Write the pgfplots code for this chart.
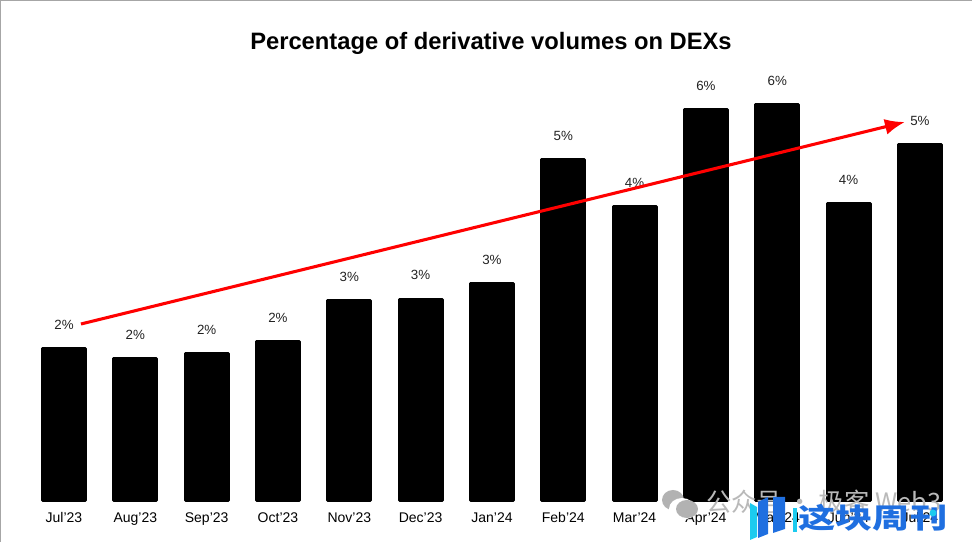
\documentclass[border=0pt]{standalone}
\usepackage{pgfplots}
\pgfplotsset{compat=1.18}
\usetikzlibrary{arrows.meta}
\usepackage{fontspec}
\setmainfont{Liberation Sans}
\newfontfamily\cjk{Noto Sans CJK SC}
\definecolor{lbl}{HTML}{222222}
\definecolor{logob}{HTML}{1F6FE0}
\definecolor{logoc}{HTML}{1CCBEF}
\begin{document}
\begin{tikzpicture}[x=0.75pt,y=0.75pt]
\begin{axis}[
  at={(0,0)},anchor=south west,
  name=ax,
  scale only axis,
  width=729pt,height=375.75pt,
  xmin=-0.897,xmax=12.73,
  ymin=0,ymax=7.368,
  clip=false,
  axis line style={draw=none},
  major tick style={draw=none},
  ytick=\empty,
  xtick={0,1,2,3,4,5,6,7,8,9,10,11,12},
  xticklabels={Jul'23,Aug'23,Sep'23,Oct'23,Nov'23,Dec'23,Jan'24,Feb'24,Mar'24,Apr'24,May'24,Jun'24,Jul'24},
  xticklabel style={font=\fontsize{10.5}{12}\selectfont,text=black,yshift=-0.4pt,text height=8pt,text depth=2pt},
  /pgf/number format/assume math mode=true,
  ybar,bar width=32.25pt,
  nodes near coords={\pgfmathprintnumber[fixed,precision=0]{\pgfplotspointmeta}\%},
  nodes near coords style={font=\fontsize{10}{12}\selectfont,text=lbl,anchor=center,yshift=17.75pt},
]
\addplot[ybar,fill=black,draw=black,line width=2.25pt,line join=round] coordinates {
(0,2.24)(1,2.10)(2,2.17)(3,2.35)(4,2.95)(5,2.97)(6,3.20)(7,5.02)(8,4.33)(9,5.76)(10,5.83)(11,4.38)(12,5.24)};
\end{axis}
\begin{axis}[
  at={(0,0)},anchor=south west,
  scale only axis,
  width=729pt,height=375.75pt,
  xmin=-0.897,xmax=12.73,
  ymin=0,ymax=7.368,
  clip=false,
  hide axis,
]
\addplot[red,line width=2.3pt,-{Latex[length=15pt,width=12pt]}] coordinates {(0.238,2.603)(11.79,5.574)};
\end{axis}
% page frame and title
\draw[gray!70,line width=0.75pt] (0.4,-41) -- (0.4,500.6) -- (972,500.6);
\node[font=\bfseries\fontsize{17.8}{22}\selectfont] at (491,457.5) {Percentage of derivative volumes on DEXs};
% watermark
\fill[gray!60] (673,1) ellipse (11 and 10);
\fill[white] (682,-8) ellipse (13 and 11);
\fill[gray!60] (687,-8) ellipse (11 and 9);
\node[font=\cjk\fontsize{19}{21}\selectfont,text=gray!55,anchor=west,inner sep=0pt] at (706,-1) {公众号 · 极客 Web3};
% logo
\fill[logoc] (750,-39) -- (757,-36) -- (757,-6) -- (750,-2) -- cycle;
\fill[logob] (758,-37) -- (768,-33) -- (768,4) -- (758,-1) -- cycle;
\fill[logob] (773,-32) -- (785,-28) -- (785,4) -- (773,4) -- cycle;
\fill[logoc] (793,-31) rectangle (797,-7);
\node[font=\cjk\bfseries\fontsize{21}{24}\selectfont,text=logob,anchor=west,inner sep=0pt,xscale=1.33] at (798,-17) {这块周刊};
\fill[logoc] (933,-12) circle (3.5);
\pgfresetboundingbox
\path[use as bounding box] (0,-41) rectangle (972,501);
\end{tikzpicture}
\end{document}
